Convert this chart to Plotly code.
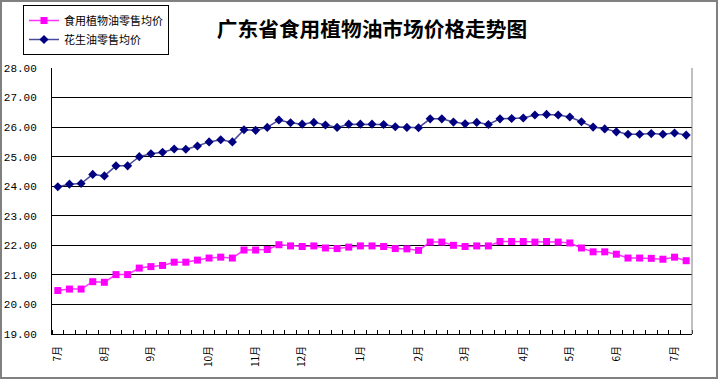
import plotly.graph_objects as go

# weekly observations, Jul -> Jul (55 weeks)
veg_oil = [20.47, 20.52, 20.52, 20.77, 20.75, 21.01, 21.01, 21.23, 21.28, 21.32,
           21.43, 21.43, 21.50, 21.57, 21.60, 21.57, 21.84, 21.84, 21.86, 22.02,
           21.98, 21.96, 21.98, 21.91, 21.89, 21.94, 21.98, 21.98, 21.96, 21.89,
           21.88, 21.83, 22.11, 22.11, 22.00, 21.96, 21.98, 21.98, 22.13, 22.13,
           22.13, 22.11, 22.13, 22.11, 22.08, 21.91, 21.78, 21.78, 21.70, 21.57,
           21.57, 21.56, 21.53, 21.60, 21.48]
peanut_oil = [23.98, 24.07, 24.09, 24.40, 24.35, 24.69, 24.69, 25.00, 25.10, 25.15,
              25.26, 25.25, 25.36, 25.50, 25.57, 25.50, 25.91, 25.89, 25.99, 26.24,
              26.15, 26.10, 26.16, 26.07, 25.99, 26.10, 26.10, 26.10, 26.09, 26.01,
              25.99, 25.98, 26.28, 26.28, 26.17, 26.11, 26.16, 26.09, 26.28, 26.29,
              26.31, 26.41, 26.43, 26.41, 26.34, 26.18, 26.00, 25.94, 25.84, 25.76,
              25.76, 25.78, 25.76, 25.80, 25.73]
weeks = list(range(len(veg_oil)))

month_pos = [0, 4, 8, 13, 17, 21, 26, 31, 35, 40, 44, 48, 53]
month_labels = ["7月", "8月", "9月", "10月", "11月", "12月", "1月", "2月", "3月",
                "4月", "5月", "6月", "7月"]

series_names = ["食用植物油零售均价", "花生油零售均价"]
title_text = "广东省食用植物油市场价格走势图"

W, H = 720, 385
L, R, T, B = 52, 28, 68, 51
pw, ph = W - L - R, H - T - B

def px(x):
    return (x - L) / pw

def py(y):
    return (H - B - y) / ph

fig = go.Figure()
fig.add_trace(go.Scatter(
    x=weeks, y=veg_oil, name=series_names[0], mode="lines+markers",
    line=dict(color="#FF33FF", width=1.5),
    marker=dict(symbol="square", size=7, color="#FF00FF"),
))
fig.add_trace(go.Scatter(
    x=weeks, y=peanut_oil, name=series_names[1], mode="lines+markers",
    line=dict(color="#4B4B9B", width=1.5),
    marker=dict(symbol="diamond", size=7, color="#000080"),
))

fig.update_layout(
    width=W, height=H,
    margin=dict(l=L, r=R, t=T, b=B, autoexpand=False),
    paper_bgcolor="white", plot_bgcolor="white",
    font=dict(family="Noto Sans CJK SC", color="black", size=11),
    title=dict(text="<b>" + title_text + "</b>", x=px(372), xanchor="center",
               y=1 - 30 / H, yanchor="middle", xref="paper",
               font=dict(size=20.7, family="Noto Sans CJK SC", color="black")),
    showlegend=True,
    legend=dict(x=px(23), y=py(5), xanchor="left", yanchor="top",
                bordercolor="black", borderwidth=1, bgcolor="white",
                font=dict(size=11, family="Noto Sans CJK SC"),
                itemwidth=30, tracegroupgap=0),
    xaxis=dict(
        range=[-0.5, len(weeks) - 0.5], automargin=False,
        tickmode="array", tickvals=month_pos, ticktext=month_labels,
        tickangle=-90, ticks="", showgrid=False, zeroline=False,
        showline=True, linecolor="black", linewidth=1, ticklabelstandoff=7,
        tickfont=dict(size=10, family="Noto Sans CJK SC"),
        minor=dict(tickmode="linear", tick0=0.5, dtick=1, ticks="inside",
                   ticklen=4, tickcolor="black", showgrid=False),
    ),
    yaxis=dict(
        range=[19, 28], tickmode="linear", tick0=19, dtick=1, automargin=False,
        tickformat=".2f", ticks="", showgrid=True, gridcolor="black",
        gridwidth=1, zeroline=False, showline=True, linecolor="black",
        linewidth=1, ticklabelstandoff=12,
        tickfont=dict(size=11, family="Liberation Mono"),
    ),
    shapes=[
        dict(type="line", xref="paper", yref="paper", x0=1, x1=1, y0=0, y1=1,
             line=dict(color="#808080", width=1)),
        dict(type="rect", xref="paper", yref="paper",
             x0=px(1), x1=px(717), y0=py(378), y1=py(1),
             line=dict(color="#808080", width=2), layer="below"),
    ],
)

fig.write_html("out.html", config={"displayModeBar": False},
               post_script="document.body.style.margin='0px';")
